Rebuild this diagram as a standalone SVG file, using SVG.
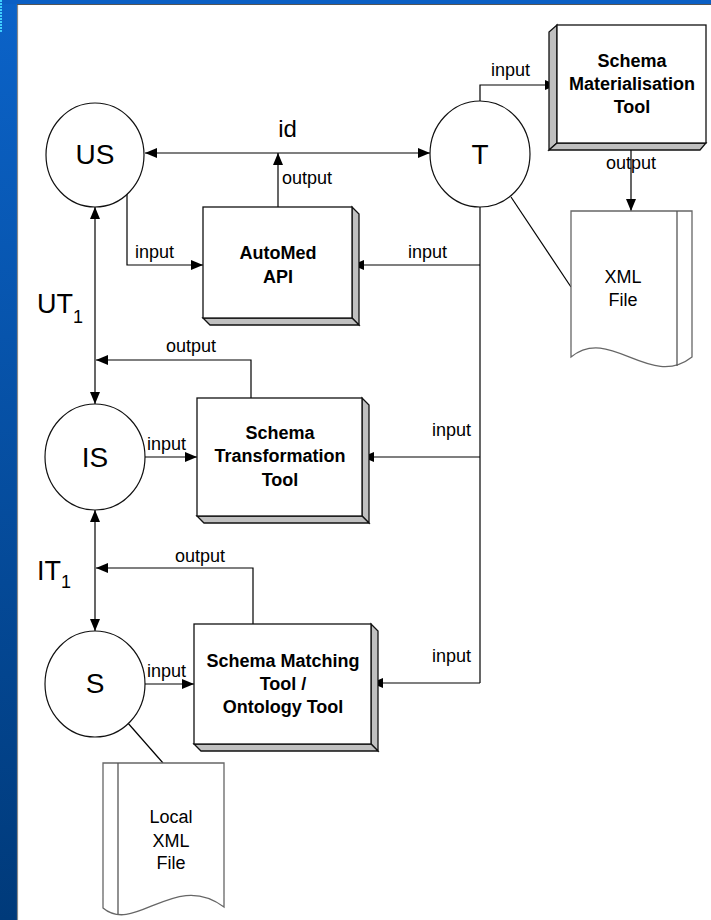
<svg xmlns="http://www.w3.org/2000/svg" width="711" height="920" viewBox="0 0 711 920">
<style>
.ln{stroke:#000;stroke-width:1.2;fill:none}
.circ{fill:#fff;stroke:#111;stroke-width:1.2}
.front{fill:#fff;stroke:#111;stroke-width:1.3}
.side{fill:#c0c0c0;stroke:#111;stroke-width:1.3}
.doc{fill:#fff;stroke:#666;stroke-width:1.3}
.docl{stroke:#555;stroke-width:1.3;fill:none}
text{font-family:"Liberation Sans",Arial,sans-serif;fill:#000}
.big{font-size:28px;text-anchor:middle}
.lbl{font-size:18px}
.ttl{font-size:18px;font-weight:bold;text-anchor:middle}
.dtx{font-size:18px;text-anchor:middle}
</style>
<defs>
<linearGradient id="bg" x1="0" y1="0" x2="0" y2="1">
<stop offset="0" stop-color="#0b63c9"/>
<stop offset="1" stop-color="#003a7a"/>
</linearGradient>
<marker id="arr" viewBox="0 0 12 10" refX="12" refY="5" markerWidth="12" markerHeight="10" markerUnits="userSpaceOnUse" orient="auto-start-reverse">
<path d="M0,0 L12,5 L0,10 z" fill="#000"/>
</marker>
</defs>
<rect x="0" y="0" width="711" height="920" fill="#fff"/>
<rect x="0" y="0" width="17" height="920" fill="url(#bg)"/>
<rect x="0" y="0" width="711" height="4" fill="#0b5fc4"/>
<line x1="17.5" y1="4" x2="17.5" y2="920" stroke="#8a8a8a" stroke-width="1.2"/>
<line x1="17" y1="4.5" x2="711" y2="4.5" stroke="#555" stroke-width="1.2"/>
<line x1="1" y1="0" x2="1" y2="32" stroke="#40d0ff" stroke-width="2" stroke-dasharray="2,1"/>

<g id="connectors">
<path class="ln" d="M145,153 H430" marker-start="url(#arr)" marker-end="url(#arr)"/>
<path class="ln" d="M278,207 V153" marker-end="url(#arr)"/>
<path class="ln" d="M127,193 V265 H203" marker-end="url(#arr)"/>
<path class="ln" d="M480,207 V683"/>
<path class="ln" d="M480,265 H352" marker-end="url(#arr)"/>
<path class="ln" d="M480,457 H362" marker-end="url(#arr)"/>
<path class="ln" d="M480,683 H371" marker-end="url(#arr)"/>
<path class="ln" d="M480,101 V85 H557" marker-end="url(#arr)"/>
<path class="ln" d="M631,150 V211" marker-end="url(#arr)"/>
<path class="ln" d="M511,197 L571,287"/>
<path class="ln" d="M95,207 V404" marker-start="url(#arr)" marker-end="url(#arr)"/>
<path class="ln" d="M251,398 V360 H96" marker-end="url(#arr)"/>
<path class="ln" d="M145,457 H197" marker-end="url(#arr)"/>
<path class="ln" d="M95,510 V631" marker-start="url(#arr)" marker-end="url(#arr)"/>
<path class="ln" d="M253,624 V568 H96" marker-end="url(#arr)"/>
<path class="ln" d="M145,684 H194" marker-end="url(#arr)"/>
<path class="ln" d="M127,722 L163,763"/>
<text class="lbl" x="287.5" y="137" text-anchor="middle" style="font-size:24px">id</text>
<text class="lbl" x="282" y="184">output</text>
<text class="lbl" x="135" y="258">input</text>
<text class="lbl" x="447" y="258" text-anchor="end">input</text>
<text class="lbl" x="491" y="76">input</text>
<text class="lbl" x="631" y="169" text-anchor="middle">output</text>
<text class="lbl" x="166" y="352">output</text>
<text class="lbl" x="147" y="450">input</text>
<text class="lbl" x="471" y="436" text-anchor="end">input</text>
<text class="lbl" x="175" y="562">output</text>
<text class="lbl" x="147" y="677">input</text>
<text class="lbl" x="471" y="662" text-anchor="end">input</text>
<text x="37" y="313" style="font-size:27px">UT<tspan dy="10" style="font-size:18px">1</tspan></text>
<text x="37" y="580" style="font-size:27px">IT<tspan dy="8" style="font-size:18px">1</tspan></text>
</g>

<g id="US">
<ellipse class="circ" cx="95" cy="155" rx="49" ry="52"/>
<text class="big" x="95" y="164">US</text>
</g>
<g id="T">
<ellipse class="circ" cx="480" cy="154" rx="50" ry="53"/>
<text class="big" x="480" y="164">T</text>
</g>
<g id="IS">
<ellipse class="circ" cx="95" cy="457" rx="50" ry="53"/>
<text class="big" x="95" y="467">IS</text>
</g>
<g id="S">
<ellipse class="circ" cx="95" cy="684" rx="50" ry="53"/>
<text class="big" x="95" y="693">S</text>
</g>

<g id="AutoMedAPI">
<polygon class="side" points="352,207 359,214 359,325 352,318"/>
<polygon class="side" points="203,318 210,325 359,325 352,318"/>
<rect class="front" x="203" y="207" width="149" height="111"/>
<text class="ttl" x="278" y="259">AutoMed</text>
<text class="ttl" x="278" y="283">API</text>
</g>
<g id="SchemaTransformationTool">
<polygon class="side" points="362,398 369,405 369,523 362,516"/>
<polygon class="side" points="197,516 204,523 369,523 362,516"/>
<rect class="front" x="197" y="398" width="165" height="118"/>
<text class="ttl" x="280" y="439">Schema</text>
<text class="ttl" x="280" y="462">Transformation</text>
<text class="ttl" x="280" y="486">Tool</text>
</g>
<g id="SchemaMatchingTool">
<polygon class="side" points="371,624 378,631 378,751 371,744"/>
<polygon class="side" points="194,744 201,751 378,751 371,744"/>
<rect class="front" x="194" y="624" width="177" height="120"/>
<text class="ttl" x="283" y="667">Schema Matching</text>
<text class="ttl" x="283" y="690">Tool /</text>
<text class="ttl" x="283" y="713">Ontology Tool</text>
</g>
<g id="SchemaMaterialisationTool">
<polygon class="side" points="557,25 549,32 549,150 557,143"/>
<polygon class="side" points="549,150 700,150 706,143 557,143"/>
<rect class="front" x="557" y="25" width="149" height="118"/>
<text class="ttl" x="632" y="67">Schema</text>
<text class="ttl" x="632" y="90">Materialisation</text>
<text class="ttl" x="632" y="113">Tool</text>
</g>
<g id="XMLFile">
<path class="doc" d="M571,211 H692 V357 C650,390 610,325 571,357 Z"/>
<line class="docl" x1="677" y1="211" x2="677" y2="366"/>
<text class="dtx" x="623" y="283">XML</text>
<text class="dtx" x="623" y="306">File</text>
</g>
<g id="LocalXMLFile">
<path class="doc" d="M103,763 H224 V907 C175,870 135,935 103,908 Z"/>
<line class="docl" x1="118" y1="763" x2="118" y2="914"/>
<text class="dtx" x="171" y="823">Local</text>
<text class="dtx" x="171" y="847">XML</text>
<text class="dtx" x="171" y="869">File</text>
</g>
</svg>
